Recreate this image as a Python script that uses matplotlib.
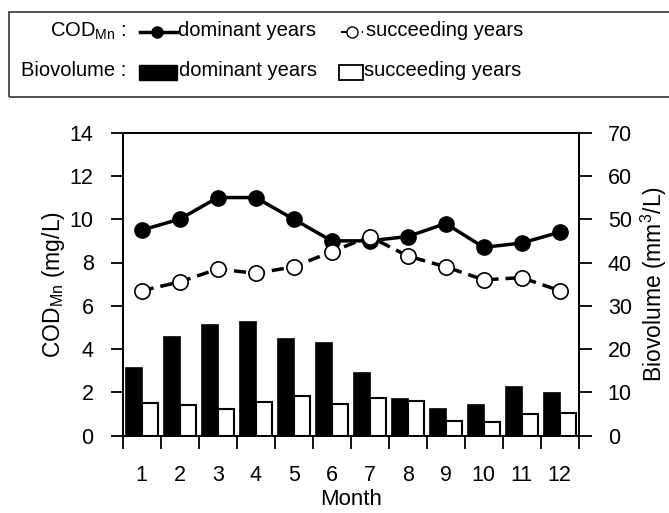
import matplotlib
matplotlib.use("Agg")
import matplotlib.pyplot as plt
from matplotlib.lines import Line2D
from matplotlib.patches import Rectangle
import numpy as np

plt.rcParams['font.family'] = ['Liberation Sans', 'DejaVu Sans']
plt.rcParams['mathtext.fontset'] = 'custom'
plt.rcParams['mathtext.rm'] = 'Liberation Sans'
plt.rcParams['mathtext.it'] = 'Liberation Sans:italic'

# dados
meses = ["1", "2", "3", "4", "5", "6", "7", "8", "9", "10", "11", "12"]
cod_dominante = [9.5, 10.0, 11.0, 11.0, 10.0, 9.0, 9.0, 9.2, 9.8, 8.7, 8.9, 9.4]
cod_sucessao = [6.7, 7.1, 7.7, 7.5, 7.8, 8.5, 9.2, 8.3, 7.8, 7.2, 7.3, 6.7]
bio_dominante = [15.6, 22.8, 25.6, 26.3, 22.3, 21.4, 14.5, 8.5, 6.2, 7.1, 11.3, 9.9]
bio_sucessao = [7.6, 7.1, 6.1, 7.7, 9.2, 7.3, 8.8, 8.1, 3.3, 3.2, 5.0, 5.3]

W, H = 669, 513
fs = 15.5
fs_rot = 16.5
fs_leg = 14.5

fig = plt.figure(figsize=(W / 100, H / 100), dpi=100)
ax1 = fig.add_axes([122.7 / W, 1 - 435.7 / H, 456 / W, 303.1 / H])
ax2 = ax1.twinx()

x = np.arange(len(meses))
larg = 0.42

# barras (eixo da direita)
ax2.bar(x - larg / 2, bio_dominante, width=larg, color='black', edgecolor='black', linewidth=1.2)
ax2.bar(x + larg / 2, bio_sucessao, width=larg, color='white', edgecolor='black', linewidth=1.5)
ax2.set_ylim(0, 70)
ax2.set_yticks(np.arange(0, 71, 10))
ax2.set_ylabel("Biovolume (mm$^3$/L)", fontsize=fs_rot, labelpad=5)

# linhas (eixo da esquerda)
ax1.set_zorder(ax2.get_zorder() + 1)
ax1.patch.set_visible(False)
ax1.plot(x, cod_dominante, '-o', color='black', lw=2.5, markersize=11,
         markerfacecolor='black', markeredgecolor='black')
ax1.plot(x, cod_sucessao, '--o', color='black', lw=2.5, markersize=11,
         markerfacecolor='white', markeredgecolor='black', markeredgewidth=1.2,
         dashes=(3.5, 2))
ax1.set_ylim(0, 14)
ax1.set_yticks(np.arange(0, 15, 2))
ax1.set_ylabel("COD$_{\\mathrm{Mn}}$ (mg/L)", fontsize=fs_rot, labelpad=2)

ax1.set_xlim(-0.5, len(meses) - 0.5)
ax1.set_xticks(np.arange(-0.5, len(meses), 1.0))
ax1.set_xticklabels([])
ax1.set_xticks(x, minor=True)
ax1.set_xticklabels(meses, minor=True)
ax1.tick_params(axis='x', which='minor', length=0, pad=21, labelsize=fs)
ax1.tick_params(axis='x', which='major', length=9, width=1.3, direction='out')
ax1.set_xlabel("Month", fontsize=16, labelpad=2)

ax1.tick_params(axis='y', length=9, width=1.3, direction='out', pad=12, labelsize=fs)
ax2.tick_params(axis='y', length=9, width=1.3, direction='out', pad=12, labelsize=fs)
for a in (ax1, ax2):
    for s in a.spines.values():
        s.set_linewidth(1.3)

# legenda desenhada manualmente
def fx(px):
    return px / W

def fy(py):
    return 1 - py / H

fig.patches.append(Rectangle((fx(9), fy(96.7)), fx(700), (96.7 - 11.7) / H,
                             transform=fig.transFigure, fill=False,
                             edgecolor='#333333', linewidth=1.2))

y1, y2 = 31, 71
fig.text(fx(126), fy(y1), "COD$_{\\mathrm{Mn}}$ :", ha='right', va='center', fontsize=fs_leg)
fig.text(fx(126), fy(y2), "Biovolume :", ha='right', va='center', fontsize=fs_leg)

fig.lines.append(Line2D([fx(140), fx(177)], [fy(y1 + 1), fy(y1 + 1)], transform=fig.transFigure,
                        color='black', lw=2.5))
fig.lines.append(Line2D([fx(157)], [fy(y1 + 1)], transform=fig.transFigure, marker='o',
                        markersize=8, color='black'))
fig.text(fx(178), fy(y1), "dominant years", ha='left', va='center', fontsize=fs_leg)

fig.lines.append(Line2D([fx(341), fx(363)], [fy(y1 + 1), fy(y1 + 1)], transform=fig.transFigure,
                        color='black', lw=1.5, dashes=(3, 2)))
fig.lines.append(Line2D([fx(352)], [fy(y1 + 1)], transform=fig.transFigure, marker='o',
                        markersize=8, markerfacecolor='white', markeredgecolor='black',
                        markeredgewidth=1))
fig.text(fx(366), fy(y1), "succeeding years", ha='left', va='center', fontsize=fs_leg)

fig.patches.append(Rectangle((fx(139), fy(80)), fx(38), 15 / H, transform=fig.transFigure,
                             facecolor='black', edgecolor='black'))
fig.text(fx(179), fy(y2), "dominant years", ha='left', va='center', fontsize=fs_leg)
fig.patches.append(Rectangle((fx(339), fy(80)), fx(24), 15 / H, transform=fig.transFigure,
                             facecolor='white', edgecolor='black', linewidth=1.3))
fig.text(fx(364), fy(y2), "succeeding years", ha='left', va='center', fontsize=fs_leg)

fig.savefig("out.png", dpi=100)
